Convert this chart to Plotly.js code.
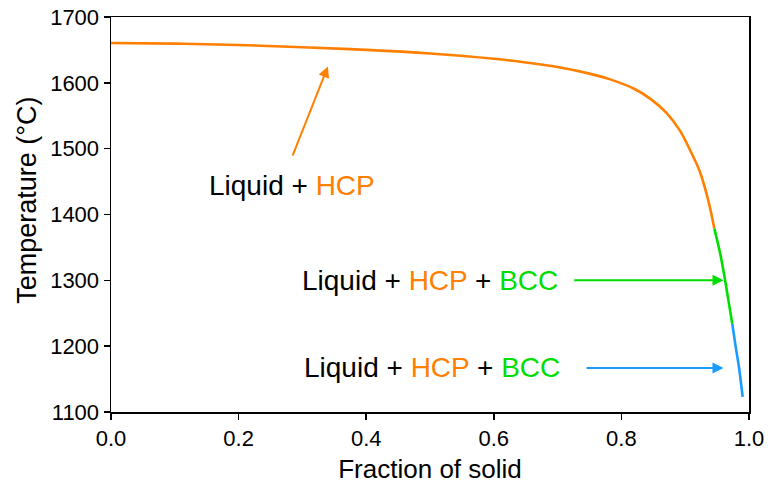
<!DOCTYPE html>
<html>
<head>
<meta charset="utf-8">
<script src="https://cdn.plot.ly/plotly-3.0.1.min.js"></script>
<style>html,body{margin:0;padding:0;background:#fff;}#chart{width:768px;height:492px;}</style>
</head>
<body>
<div id="chart"></div>
<script>
// Liquid + HCP segment
const hcpFrac = [0, 0.1, 0.2, 0.3, 0.4, 0.5, 0.6, 0.65, 0.7, 0.75, 0.78, 0.82, 0.845, 0.871, 0.892, 0.9075, 0.923, 0.936, 0.9456];
const hcpTemp = [1660.5, 1659.5, 1657.5, 1654, 1650, 1644.5, 1636.5, 1631, 1624, 1614, 1606, 1591, 1576, 1554, 1527, 1498, 1465, 1422, 1379];
// Liquid + HCP + BCC (green)
const bccFrac = [0.9456, 0.955, 0.9624, 0.968, 0.9738];
const bccTemp = [1379, 1340, 1301, 1268, 1234];
// Liquid + HCP + BCC (blue)
const bcc2Frac = [0.9738, 0.979, 0.9843, 0.990];
const bcc2Temp = [1234, 1200, 1168, 1123];

const xTicks = [0, 0.2, 0.4, 0.6, 0.8, 1.0];
const yTicks = [1100, 1200, 1300, 1400, 1500, 1600, 1700];

const ORANGE = '#ff8000', GREEN = '#00dd00', BLUE = '#1a9cff';

const traces = [
  {x: hcpFrac, y: hcpTemp, mode: 'lines', line: {color: ORANGE, width: 2.6, shape: 'spline', smoothing: 1}, hoverinfo: 'skip'},
  {x: bccFrac, y: bccTemp, mode: 'lines', line: {color: GREEN, width: 2.6, shape: 'spline', smoothing: 1}, hoverinfo: 'skip'},
  {x: bcc2Frac, y: bcc2Temp, mode: 'lines', line: {color: BLUE, width: 2.6, shape: 'spline', smoothing: 1}, hoverinfo: 'skip'}
];

const fnt = 'Arial, "Liberation Sans", sans-serif';
const lblFont = {family: fnt, size: 28, color: '#000'};

const annotations = [
  // arrows
  {x: 0.340, y: 1625, ax: 0.2837, ay: 1487, xref: 'x', yref: 'y', axref: 'x', ayref: 'y', text: '', showarrow: true, arrowhead: 2, arrowsize: 1.1, arrowwidth: 2, arrowcolor: ORANGE},
  {x: 0.960, y: 1300, ax: 0.7236, ay: 1300, xref: 'x', yref: 'y', axref: 'x', ayref: 'y', text: '', showarrow: true, arrowhead: 2, arrowsize: 1.1, arrowwidth: 2, arrowcolor: GREEN},
  {x: 0.960, y: 1167, ax: 0.743, ay: 1167, xref: 'x', yref: 'y', axref: 'x', ayref: 'y', text: '', showarrow: true, arrowhead: 2, arrowsize: 1.1, arrowwidth: 2, arrowcolor: BLUE},
  // labels
  {x: 0.284, y: 1444, xref: 'x', yref: 'y', showarrow: false, xanchor: 'center', yanchor: 'middle', font: lblFont,
   text: 'Liquid + <span style="color:' + ORANGE + '">HCP</span>'},
  {x: 0.500, y: 1300, xref: 'x', yref: 'y', showarrow: false, xanchor: 'center', yanchor: 'middle', font: lblFont,
   text: 'Liquid + <span style="color:' + ORANGE + '">HCP</span> + <span style="color:' + GREEN + '">BCC</span>'},
  {x: 0.503, y: 1167, xref: 'x', yref: 'y', showarrow: false, xanchor: 'center', yanchor: 'middle', font: lblFont,
   text: 'Liquid + <span style="color:' + ORANGE + '">HCP</span> + <span style="color:' + GREEN + '">BCC</span>'},
  // y-axis title
  {x: -0.1317, y: 0.537, xref: 'paper', yref: 'paper', showarrow: false, xanchor: 'center', yanchor: 'middle', textangle: -90,
   font: {family: fnt, size: 27, color: '#000'}, text: 'Temperature (°C)'}
];

const layout = {
  width: 768, height: 492,
  margin: {l: 111, r: 19, t: 17, b: 80},
  paper_bgcolor: '#fff', plot_bgcolor: '#fff',
  showlegend: false,
  font: {family: fnt, color: '#000'},
  xaxis: {
    range: [0, 1], tickvals: xTicks, ticktext: xTicks.map(v => v.toFixed(1)),
    showgrid: false, zeroline: false, showline: true, mirror: true, linecolor: '#000', linewidth: 1.5,
    ticks: 'outside', ticklen: 6, tickwidth: 1.5, tickcolor: '#000',
    tickfont: {family: fnt, size: 22, color: '#000'},
    title: {text: 'Fraction of solid', font: {family: fnt, size: 26, color: '#000'}, standoff: 10}
  },
  yaxis: {
    range: [1100, 1700], tickvals: yTicks,
    showgrid: false, zeroline: false, showline: true, mirror: true, linecolor: '#000', linewidth: 1.5,
    ticks: 'outside', ticklen: 6, tickwidth: 1.5, tickcolor: '#000',
    tickfont: {family: fnt, size: 22, color: '#000'}
  },
  annotations: annotations
};

Plotly.newPlot('chart', traces, layout, {displayModeBar: false, staticPlot: true});
</script>
</body>
</html>
